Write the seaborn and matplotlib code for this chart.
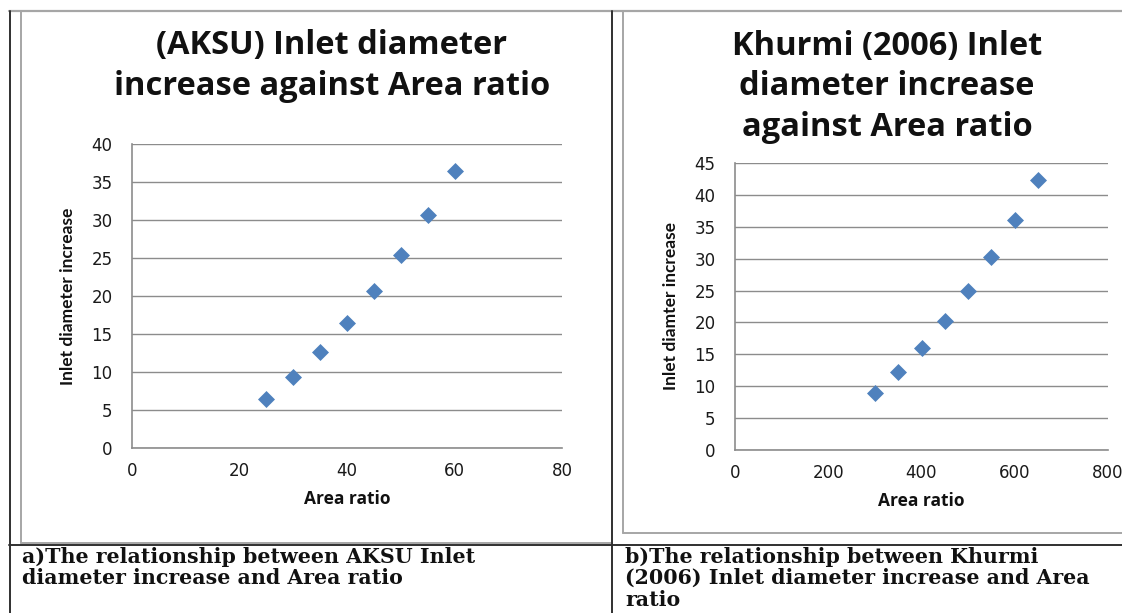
import matplotlib
matplotlib.use("Agg")
import matplotlib.pyplot as plt
from matplotlib.lines import Line2D
import seaborn as sns
import pandas as pd

# ---- data ----
aksu_area_ratio = [25, 30, 35, 40, 45, 50, 55, 60]
aksu_inlet_increase = [6.5, 9.3, 12.6, 16.4, 20.6, 25.4, 30.7, 36.5]

khurmi_area_ratio = [300, 350, 400, 450, 500, 550, 600, 650]
khurmi_inlet_increase = [9.0, 12.2, 16.0, 20.3, 25.0, 30.2, 36.0, 42.3]

left_title = "(AKSU) Inlet diameter\nincrease against Area ratio"
right_title = "Khurmi (2006) Inlet\ndiameter increase\nagainst Area ratio"
left_ylabel = "Inlet diameter increase"
right_ylabel = "Inlet diamter increase"
xlabel = "Area ratio"
caption_a = "a)The relationship between AKSU Inlet\ndiameter increase and Area ratio"
caption_b = "b)The relationship between Khurmi\n(2006) Inlet diameter increase and Area\nratio"

left_xticks = [0, 20, 40, 60, 80]
left_yticks = [0, 5, 10, 15, 20, 25, 30, 35, 40]
right_xticks = [0, 200, 400, 600, 800]
right_yticks = [0, 5, 10, 15, 20, 25, 30, 35, 40, 45]

sns.set_theme(style="white")
plt.rcParams['font.family'] = ['DejaVu Sans']

W, H = 1122, 613
fig = plt.figure(figsize=(W / 100, H / 100), dpi=100)
fig.patch.set_facecolor("white")


def fx(x):
    return x / W


def fy(y):
    return 1 - y / H


def line(x0, y0, x1, y1, color, lw):
    fig.add_artist(Line2D([fx(x0), fx(x1)], [fy(y0), fy(y1)],
                          transform=fig.transFigure, color=color, lw=lw))


def axes_px(x0, y0, x1, y1):
    return fig.add_axes([fx(x0), fy(y1), (x1 - x0) / W, (y1 - y0) / H])


BLUE = "#4F81BD"
GRID = "#8c8c8c"
TICKC = "#1a1a1a"


def style_axes(ax, xt, yt, ylabel, xl):
    ax.set_xlim(xt[0], xt[-1])
    ax.set_ylim(yt[0], yt[-1])
    ax.set_xticks(xt)
    ax.set_yticks(yt)
    ax.grid(axis="y", color=GRID, lw=1.0)
    ax.grid(axis="x", visible=False)
    ax.set_axisbelow(True)
    for s in ["top", "right"]:
        ax.spines[s].set_visible(False)
    for s in ["left", "bottom"]:
        ax.spines[s].set_color(GRID)
        ax.spines[s].set_linewidth(1.2)
    ax.tick_params(axis="both", length=0, labelsize=12, colors=TICKC)
    ax.tick_params(axis="x", pad=10)
    ax.tick_params(axis="y", pad=14)
    for lab in ax.get_xticklabels() + ax.get_yticklabels():
        lab.set_family(["DejaVu Sans"])
    ax.set_ylabel(ylabel, fontsize=12.5, fontweight="bold",
                  family=["Lato", "DejaVu Sans"], color="#111111")
    ax.set_xlabel(xl, fontsize=12.5, fontweight="bold",
                  family=["Open Sans", "DejaVu Sans"],
                  color="#111111", labelpad=7)
    ax.set_facecolor("white")


# ---- left chart ----
ax1 = axes_px(132, 144, 562, 448)
df1 = pd.DataFrame({"x": aksu_area_ratio, "y": aksu_inlet_increase})
sns.scatterplot(data=df1, x="x", y="y", ax=ax1, marker="D", s=75,
                color=BLUE, edgecolor=BLUE, linewidth=0, zorder=3)
style_axes(ax1, left_xticks, left_yticks, left_ylabel, xlabel)
ax1.yaxis.set_label_coords(-0.13, 0.5)

# ---- right chart ----
ax2 = axes_px(735, 163, 1108, 450)
df2 = pd.DataFrame({"x": khurmi_area_ratio, "y": khurmi_inlet_increase})
sns.scatterplot(data=df2, x="x", y="y", ax=ax2, marker="D", s=75,
                color=BLUE, edgecolor=BLUE, linewidth=0, zorder=3)
style_axes(ax2, right_xticks, right_yticks, right_ylabel, xlabel)
ax2.yaxis.set_label_coords(-0.15, 0.5)
for lab in ax2.get_xticklabels():
    lab.set_clip_on(False)

# ---- titles ----
fig.text(fx(332), fy(66), left_title, ha="center", va="center", fontsize=23.5,
         fontweight="bold", family=["Open Sans", "DejaVu Sans"], linespacing=1.3,
         color="#111111")
fig.text(fx(887), fy(86.5), right_title, ha="center", va="center", fontsize=23.5,
         fontweight="bold", family=["Open Sans", "DejaVu Sans"], linespacing=1.3,
         color="#111111")

# ---- table / chart borders ----
DARK = "#303030"
LGRAY = "#a6a6a6"
line(9, 11, W, 11, LGRAY, 1.6)
line(21, 11, 21, 543, LGRAY, 1.4)
line(21, 543, 611, 543, LGRAY, 1.4)
line(623, 11, 623, 533, LGRAY, 1.4)
line(623, 533, W, 533, LGRAY, 1.4)
line(9.5, 11, 9.5, H, DARK, 1.4)
line(612, 11, 612, H, DARK, 1.4)
line(9, 545, W, 545, DARK, 1.4)

# ---- captions ----
fig.text(fx(22), fy(547), caption_a, ha="left", va="top", fontsize=14.8,
         fontweight="bold", family=["DejaVu Serif"],
         linespacing=1.08, color="#111111")
fig.text(fx(625), fy(547), caption_b, ha="left", va="top", fontsize=14.8,
         fontweight="bold", family=["DejaVu Serif"],
         linespacing=1.08, color="#111111")

fig.savefig("out.png", dpi=100, facecolor="white")
